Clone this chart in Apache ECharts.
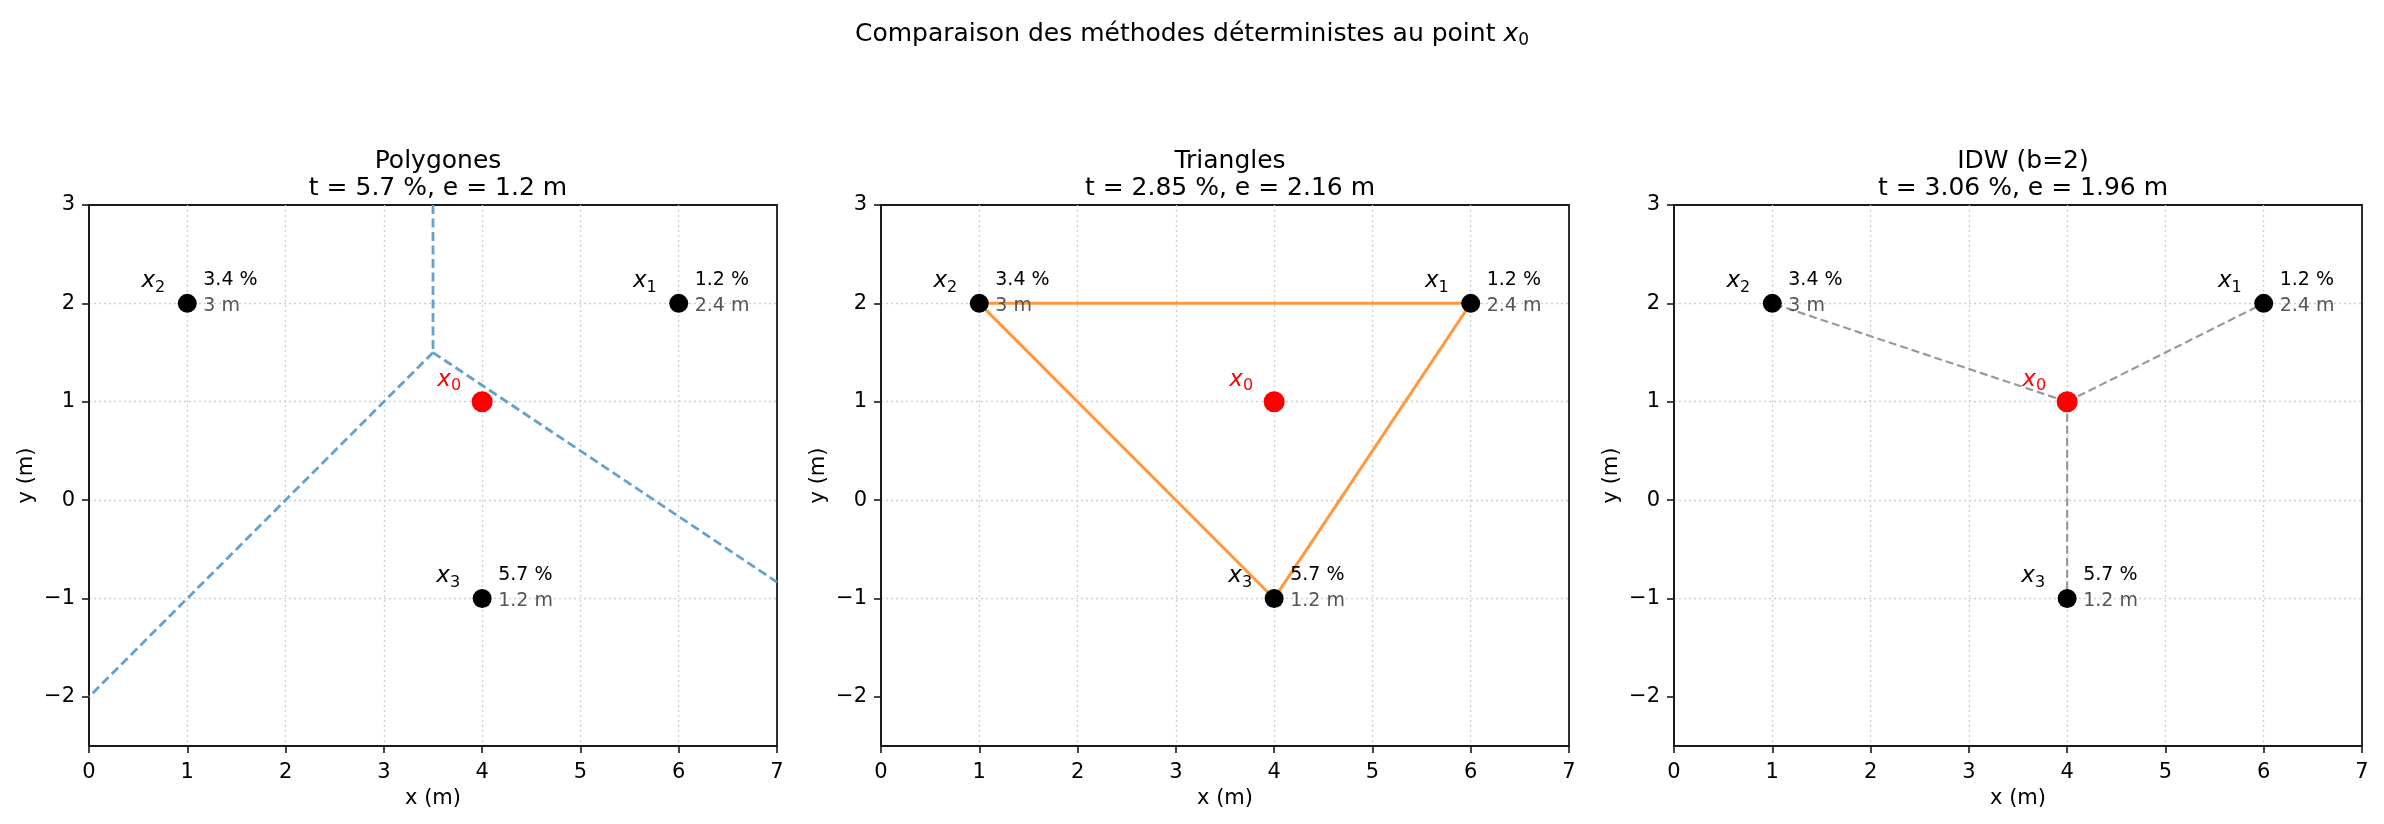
<!DOCTYPE html>
<html>
<head>
<meta charset="utf-8">
<script src="https://cdn.jsdelivr.net/npm/echarts@6/dist/echarts.min.js"></script>
<style>
html,body{margin:0;padding:0;background:#fff;}
#chart{width:2384px;height:824px;}
</style>
</head>
<body>
<div id="chart"></div>
<script>
// ---- data ----
const pointX = [6, 1, 4];
const pointY = [2, 2, -1];
const pointIdx = ['1', '2', '3'];
const pointPct = ['1.2 %', '3.4 %', '5.7 %'];
const pointDist = ['2.4 m', '3 m', '1.2 m'];
const targetX = 4;
const targetY = 1;
const methodNames = ['Polygones', 'Triangles', 'IDW (b=2)'];
const methodT = ['5.7 %', '2.85 %', '3.06 %'];
const methodE = ['1.2 m', '2.16 m', '1.96 m'];
const voronoiSegments = [
  [[3.5, 3], [3.5, 1.5]],
  [[3.5, 1.5], [0, -2]],
  [[3.5, 1.5], [7, -0.8333]]
];
const triangleOrder = [0, 1, 2, 0];
const xTicks = [0, 1, 2, 3, 4, 5, 6, 7];
const yTicks = [-2, -1, 0, 1, 2, 3];
const xRange = [0, 7];
const yRange = [-2.5, 3];

// ---- layout ----
const gridLefts = [89, 881, 1674];
const gridWidth = 688;
const gridTop = 205;
const gridHeight = 541;
const FONT = 'DejaVu Sans';

const fmt = v => (Math.abs(v - Math.round(v)) > 1e-9) ? '' : String(Math.round(v)).replace('-', '\u2212');

const grids = [], xAxes = [], yAxes = [], series = [], titles = [];

titles.push({
  text: 'Comparaison des méthodes déterministes au point {i|x}{s|0}',
  left: 'center', top: 14,
  textStyle: {
    fontFamily: FONT, fontSize: 25, fontWeight: 'normal', color: '#000', lineHeight: 30,
    rich: {
      i: {fontFamily: FONT, fontSize: 25, fontStyle: 'italic', color: '#000', lineHeight: 30},
      s: {fontFamily: FONT, fontSize: 17, color: '#000', verticalAlign: 'bottom', padding: [6, 0, 0, 0]}
    }
  }
});

const nameRich = (color) => ({
  i: {fontFamily: FONT, fontSize: 23, fontStyle: 'italic', color: color, lineHeight: 28},
  s: {fontFamily: FONT, fontSize: 16, color: color, verticalAlign: 'bottom', padding: [5, 0, 0, 0]}
});

const splitStyle = {show: true, showMinLine: false, showMaxLine: false,
  lineStyle: {color: '#cfcfcf', width: 1.3, type: [2, 3]}};

const hidden = {color: 'rgba(0,0,0,0)', opacity: 1};

for (let g = 0; g < 3; g++) {
  grids.push({
    left: gridLefts[g], top: gridTop, width: gridWidth, height: gridHeight,
    show: true, borderColor: '#1a1a1a', borderWidth: 1.8, backgroundColor: 'transparent'
  });
  titles.push({
    text: methodNames[g] + '\nt = ' + methodT[g] + ', e = ' + methodE[g],
    left: gridLefts[g] + gridWidth / 2, top: 143, textAlign: 'center',
    textStyle: {fontFamily: FONT, fontSize: 25, fontWeight: 'normal', color: '#000', lineHeight: 27}
  });
  xAxes.push({
    gridIndex: g, type: 'value', min: xRange[0], max: xRange[1], interval: 1,
    name: 'x (m)', nameLocation: 'middle', nameGap: 41,
    nameTextStyle: {fontFamily: FONT, fontSize: 21, color: '#000'},
    axisLine: {show: true, onZero: false, lineStyle: {color: '#1a1a1a', width: 1.8}},
    axisTick: {show: true, length: 7, lineStyle: {color: '#1a1a1a', width: 1.6}},
    axisLabel: {fontFamily: FONT, fontSize: 21, color: '#000', margin: 16, formatter: fmt},
    splitLine: splitStyle
  });
  yAxes.push({
    gridIndex: g, type: 'value', min: yRange[0], max: yRange[1], minInterval: 1, maxInterval: 1,
    name: 'y (m)', nameLocation: 'middle', nameGap: 52,
    nameTextStyle: {fontFamily: FONT, fontSize: 21, color: '#000'},
    axisLine: {show: true, onZero: false, lineStyle: {color: '#1a1a1a', width: 1.8}},
    axisTick: {show: true, length: 7, customValues: yTicks, lineStyle: {color: '#1a1a1a', width: 1.6}},
    axisLabel: {fontFamily: FONT, fontSize: 21, color: '#000', margin: 14, customValues: yTicks, formatter: fmt},
    splitLine: splitStyle
  });

  // method-specific lines
  if (g === 0) {
    voronoiSegments.forEach(seg => {
      series.push({
        type: 'line', xAxisIndex: g, yAxisIndex: g, data: seg, symbol: 'none', silent: true,
        lineStyle: {color: '#64a2cd', width: 2.8, type: [9, 4.5], opacity: 1}, z: 2
      });
    });
  } else if (g === 1) {
    series.push({
      type: 'line', xAxisIndex: g, yAxisIndex: g, symbol: 'none', silent: true,
      data: triangleOrder.map(i => [pointX[i], pointY[i]]),
      lineStyle: {color: '#ff993e', width: 3, opacity: 1}, z: 2
    });
  } else {
    for (let i = 0; i < pointX.length; i++) {
      series.push({
        type: 'line', xAxisIndex: g, yAxisIndex: g, symbol: 'none', silent: true,
        data: [[targetX, targetY], [pointX[i], pointY[i]]],
        lineStyle: {color: '#9a9a9a', width: 2.2, type: [8, 4], opacity: 1}, z: 2
      });
    }
  }

  // sample points
  series.push({
    type: 'scatter', xAxisIndex: g, yAxisIndex: g, silent: true, z: 5,
    symbolSize: 19, itemStyle: {color: '#000000', opacity: 1},
    data: pointX.map((x, i) => [x, pointY[i]])
  });
  // target point
  series.push({
    type: 'scatter', xAxisIndex: g, yAxisIndex: g, silent: true, z: 5,
    symbolSize: 21, itemStyle: {color: '#ff0000', opacity: 1},
    data: [[targetX, targetY]]
  });
  // labels: names
  series.push({
    type: 'scatter', xAxisIndex: g, yAxisIndex: g, silent: true, z: 6,
    symbolSize: 1, itemStyle: hidden,
    data: pointX.map((x, i) => [x, pointY[i]]),
    label: {
      show: true, position: 'inside', align: 'right', verticalAlign: 'middle', offset: [-22, -22],
      opacity: 1,
      formatter: p => '{i|x}{s|' + pointIdx[p.dataIndex] + '}',
      rich: nameRich('#000000')
    }
  });
  series.push({
    type: 'scatter', xAxisIndex: g, yAxisIndex: g, silent: true, z: 6,
    symbolSize: 1, itemStyle: hidden,
    data: [[targetX, targetY]],
    label: {
      show: true, position: 'inside', align: 'right', verticalAlign: 'middle', offset: [-21, -22],
      opacity: 1,
      formatter: () => '{i|x}{s|0}',
      rich: nameRich('#ff0000')
    }
  });
  // labels: percentages
  series.push({
    type: 'scatter', xAxisIndex: g, yAxisIndex: g, silent: true, z: 6,
    symbolSize: 1, itemStyle: hidden,
    data: pointX.map((x, i) => [x, pointY[i]]),
    label: {
      show: true, position: 'inside', align: 'left', verticalAlign: 'middle', offset: [16, -23],
      opacity: 1, fontFamily: FONT, fontSize: 19, color: '#000000',
      formatter: p => pointPct[p.dataIndex]
    }
  });
  // labels: distances
  series.push({
    type: 'scatter', xAxisIndex: g, yAxisIndex: g, silent: true, z: 6,
    symbolSize: 1, itemStyle: hidden,
    data: pointX.map((x, i) => [x, pointY[i]]),
    label: {
      show: true, position: 'inside', align: 'left', verticalAlign: 'middle', offset: [16, 3],
      opacity: 1, fontFamily: FONT, fontSize: 19, color: '#555555',
      formatter: p => pointDist[p.dataIndex]
    }
  });
}

const chart = echarts.init(document.getElementById('chart'), null, {renderer: 'canvas'});
chart.setOption({
  backgroundColor: '#ffffff',
  animation: false,
  title: titles,
  grid: grids,
  xAxis: xAxes,
  yAxis: yAxes,
  series: series
});
</script>
</body>
</html>
